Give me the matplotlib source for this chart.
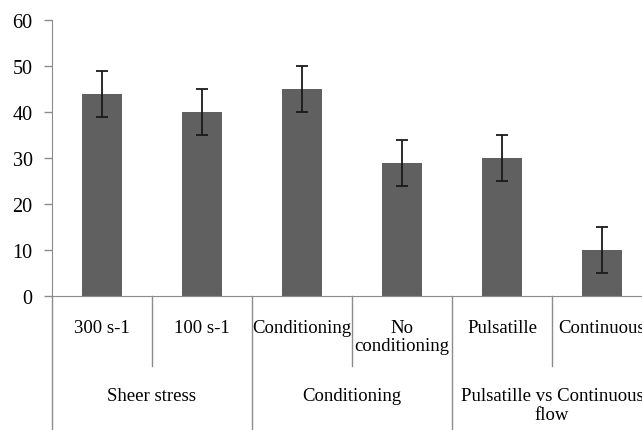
import matplotlib.pyplot as plt
from matplotlib.transforms import blended_transform_factory

categories = ["300 s-1", "100 s-1", "Conditioning", "No\nconditioning", "Pulsatille", "Continuous"]
groups = ["Sheer stress", "Conditioning", "Pulsatille vs Continuous\nflow"]
group_size = 2
values = [44, 40, 45, 29, 30, 10]
errors = [5, 5, 5, 5, 5, 5]
yticks = [0, 10, 20, 30, 40, 50, 60]

plt.rcParams['font.family'] = ['Liberation Serif', 'DejaVu Serif']

W, H = 642, 431
fig = plt.figure(figsize=(W / 100, H / 100), dpi=100)
# axis runs slightly past the right edge of the picture, as in the original
ax = fig.add_axes([52 / W, (H - 297) / H, 600 / W, 276 / H])

x = list(range(len(values)))
ax.bar(x, values, width=0.4, color="#606060", zorder=2)
ax.errorbar(x, values, yerr=errors, fmt="none", ecolor="#1a1a1a",
            elinewidth=1.3, capsize=4, capthick=1.3, zorder=3)

ax.set_xlim(-0.5, len(values) - 0.5)
ax.set_ylim(0, 60)
ax.set_yticks(yticks)
ax.tick_params(axis="y", direction="out", length=6, width=1, color="#8c8c8c",
               pad=8, labelsize=14.5)
ax.set_xticks([])

for s in ["top", "right"]:
    ax.spines[s].set_visible(False)
ax.spines["left"].set_color("#8c8c8c")
ax.spines["bottom"].set_color("#8c8c8c")

trans = blended_transform_factory(ax.transData, ax.transAxes)

# category labels and short dividers
for i, lab in enumerate(categories):
    ax.text(i, -0.082, lab, transform=trans, ha="center", va="top",
            fontsize=13.5, linespacing=1.1)
    if i % group_size != 0:
        ax.plot([i - 0.5, i - 0.5], [0, -0.254], transform=trans,
                color="#8c8c8c", lw=1, clip_on=False)

# group labels and long dividers
for g, lab in enumerate(groups):
    start = g * group_size
    centre = start + (group_size - 1) / 2
    ax.text(centre, -0.328, lab, transform=trans, ha="center", va="top",
            fontsize=13.5, linespacing=1.2)
    ax.plot([start - 0.5, start - 0.5], [0, -0.5], transform=trans,
            color="#8c8c8c", lw=1, clip_on=False)

fig.savefig("out.png", dpi=100)
